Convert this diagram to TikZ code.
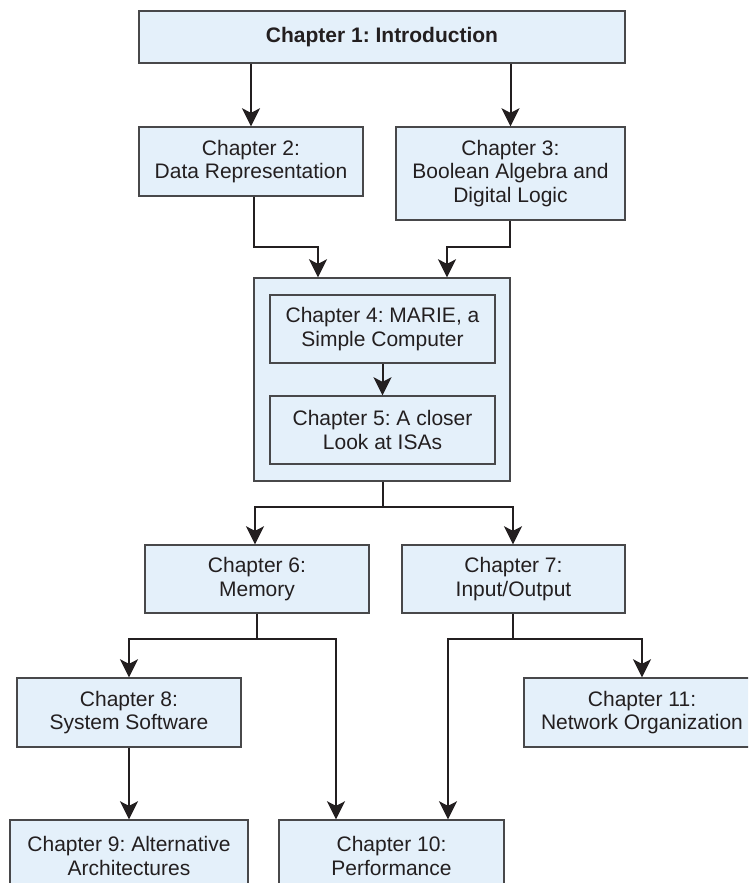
\documentclass[tikz,border=0pt]{standalone}
\usepackage{fontspec}
\setmainfont{Liberation Sans}
\usetikzlibrary{arrows.meta}

\definecolor{boxfill}{RGB}{228,240,250}
\definecolor{boxline}{RGB}{72,72,74}
\definecolor{inkline}{RGB}{35,31,32}

\tikzset{
  chapbox/.style={draw=boxline, fill=boxfill, line width=1.4pt, rectangle,
    align=center, inner sep=0pt, text=inkline,
    font=\frenchspacing\fontsize{21}{23.5}\selectfont},
  link/.style={draw=inkline, line width=2pt},
  arr/.style={link, -{Stealth[length=18pt, width=18pt, inset=4.5pt]}},
}

\begin{document}
\begin{tikzpicture}[x=1pt, y=-1pt]
  \useasboundingbox (0,0) rectangle (748,883);
  \clip (0,0) rectangle (748,883);

  % chapter boxes
  \node[chapbox, minimum width=486pt, minimum height=52pt,
        font=\frenchspacing\bfseries\fontsize{21}{23.5}\selectfont]
        (c1) at (382,37) {Chapter 1: Introduction};
  \node[chapbox, minimum width=224pt, minimum height=69pt]
        (c2) at (251,161.5) {Chapter 2:\\Data Representation};
  \node[chapbox, minimum width=229pt, minimum height=93pt]
        (c3) at (510.5,173.5) {Chapter 3:\\Boolean Algebra and\\Digital Logic};

  % group box holding chapters 4 and 5
  \node[chapbox, minimum width=256pt, minimum height=203pt]
        (grp) at (382,379.5) {};
  \node[chapbox, minimum width=225pt, minimum height=68pt]
        (c4) at (382.5,329) {Chapter 4: MARIE, a\\Simple Computer};
  \node[chapbox, minimum width=225pt, minimum height=68pt]
        (c5) at (382.5,430) {Chapter 5: A closer\\Look at ISAs};

  \node[chapbox, minimum width=224pt, minimum height=68pt]
        (c6) at (257,579) {Chapter 6:\\Memory};
  \node[chapbox, minimum width=223pt, minimum height=68pt]
        (c7) at (513.5,579) {Chapter 7:\\Input/Output};
  \node[chapbox, minimum width=224pt, minimum height=69pt]
        (c8) at (129,712.5) {Chapter 8:\\System Software};
  \node[chapbox, minimum width=236pt, minimum height=69pt]
        (c11) at (642,712.5) {Chapter 11:\\Network Organization};
  \node[chapbox, minimum width=238pt, minimum height=72pt]
        (c9) at (129,856) {Chapter 9: Alternative\\Architectures};
  \node[chapbox, minimum width=225pt, minimum height=72pt]
        (c10) at (391.5,856) {Chapter 10:\\Performance};

  % junction points of the connectors
  \coordinate (j2a) at (254,247);
  \coordinate (j2b) at (318,247);
  \coordinate (j3a) at (510,247);
  \coordinate (j3b) at (447,247);
  \coordinate (jg)  at (383,507);
  \coordinate (jgl) at (255,507);
  \coordinate (jgr) at (513,507);
  \coordinate (j6)  at (257,639);
  \coordinate (j6l) at (129,639);
  \coordinate (j6r) at (336,639);
  \coordinate (j7)  at (513,639);
  \coordinate (j7l) at (448,639);
  \coordinate (j7r) at (642,639);

  % connectors
  \draw[arr] (c1.south -| c2.north) -- (c2.north);
  \draw[arr] (c1.south -| c3.north) -- (c3.north);

  \draw[arr] (c2.south -| j2a) -- (j2a) -- (j2b) -- (j2b |- grp.north);
  \draw[arr] (c3.south -| j3a) -- (j3a) -- (j3b) -- (j3b |- grp.north);

  \draw[arr] (c4.south) -- (c5.north);

  \draw[link] (grp.south -| jg) -- (jg);
  \draw[arr] (jg) -- (jgl) -- (jgl |- c6.north);
  \draw[arr] (jg) -- (jgr) -- (jgr |- c7.north);

  \draw[link] (c6.south -| j6) -- (j6);
  \draw[arr] (j6) -- (j6l) -- (j6l |- c8.north);
  \draw[arr] (j6) -- (j6r) -- (j6r |- c10.north);

  \draw[link] (c7.south -| j7) -- (j7);
  \draw[arr] (j7) -- (j7l) -- (j7l |- c10.north);
  \draw[arr] (j7) -- (j7r) -- (j7r |- c11.north);

  \draw[arr] (c8.south) -- (c9.north);
\end{tikzpicture}
\end{document}
